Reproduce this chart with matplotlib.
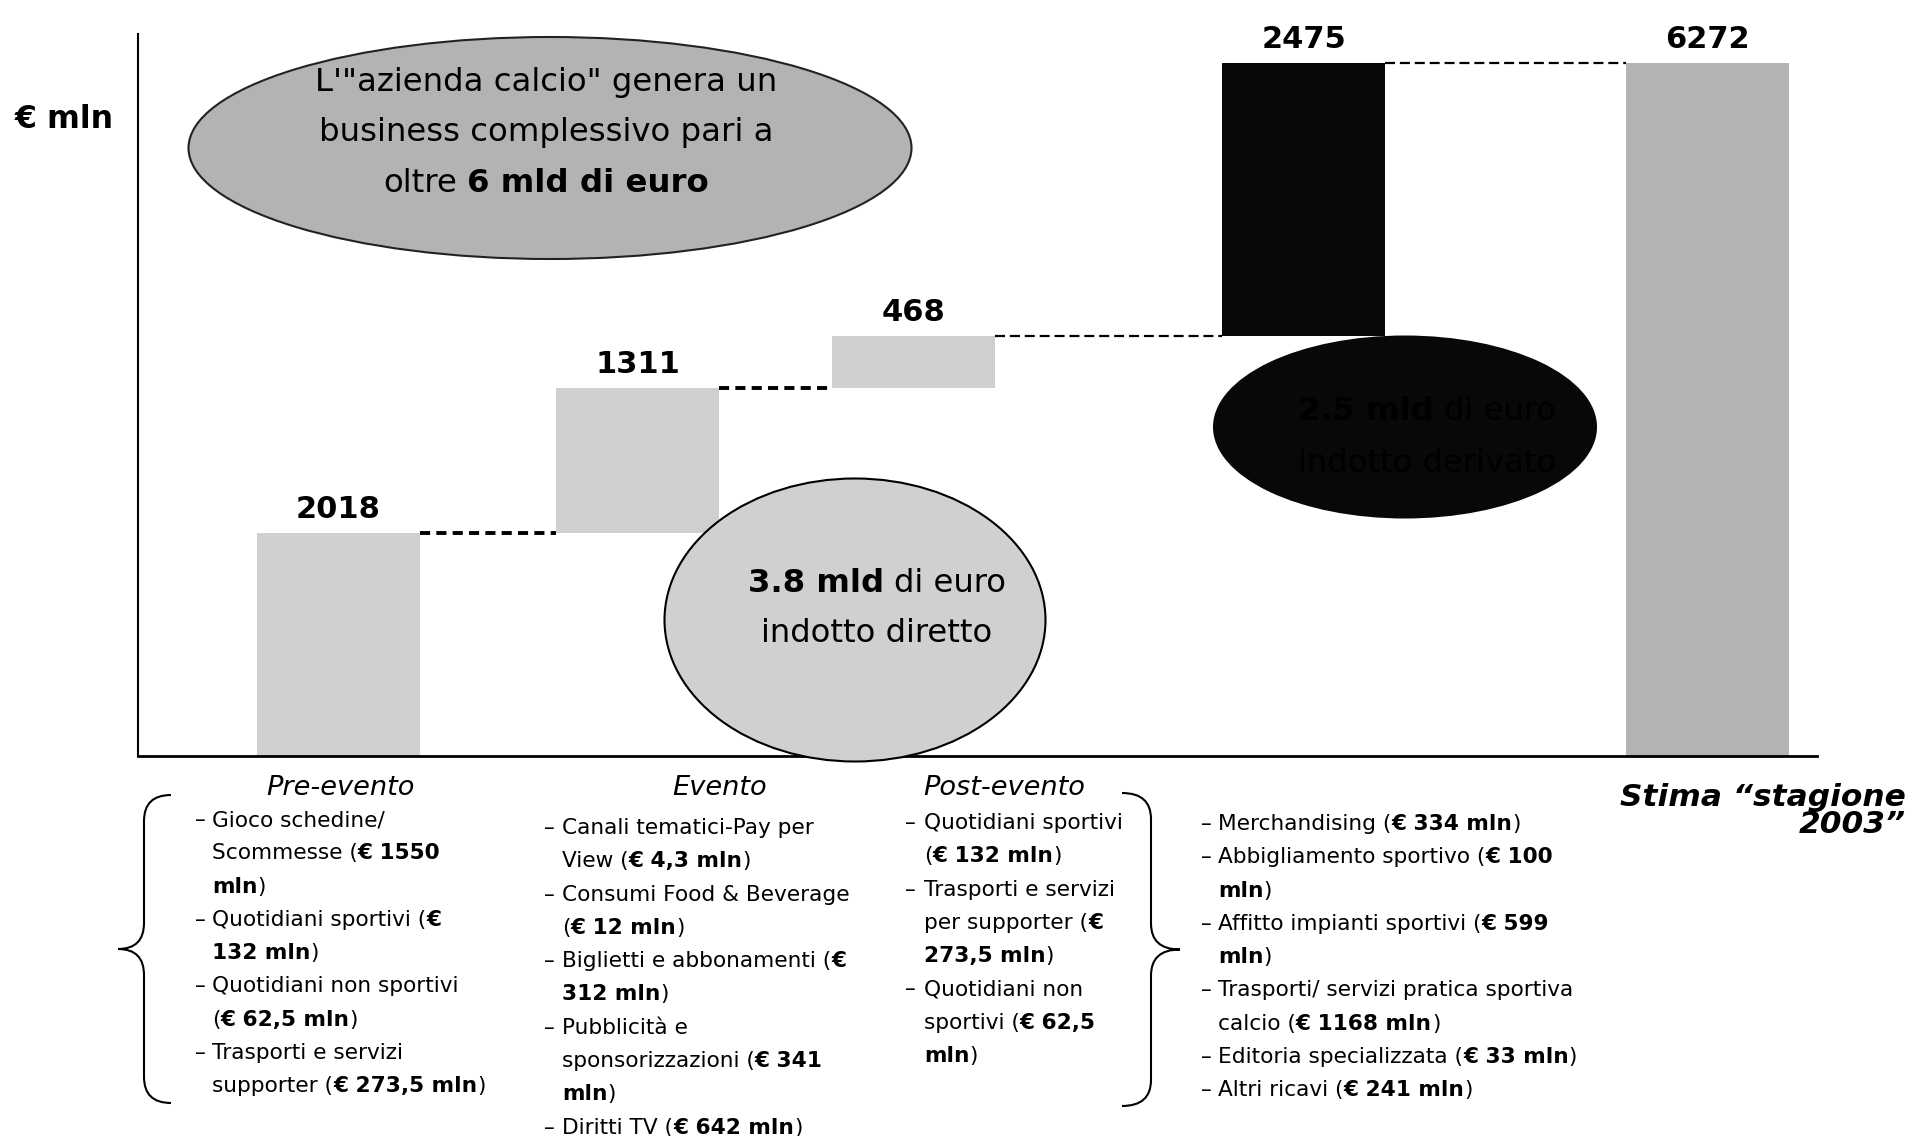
import matplotlib
matplotlib.use("Agg")
import matplotlib.pyplot as plt
from matplotlib.patches import Ellipse, PathPatch
from matplotlib.path import Path

# ── data ────────────────────────────────────────────────────────────────
steps = ["Pre-evento", "Evento", "Post-evento", "Indotto derivato"]
step_values = [2018, 1311, 468, 2475]
total_label = "Stima “stagione\n2003”"
total_value = 6272

headers = ["Pre-evento", "Evento", "Post-evento"]

pre_items = [
    ["Gioco schedine/", "Scommesse (**€ 1550**", "**mln**)"],
    ["Quotidiani sportivi (**€**", "**132 mln**)"],
    ["Quotidiani non sportivi", "(**€ 62,5 mln**)"],
    ["Trasporti e servizi", "supporter (**€ 273,5 mln**)"],
]
event_items = [
    ["Canali tematici-Pay per", "View (**€ 4,3 mln**)"],
    ["Consumi Food & Beverage", "(**€ 12 mln**)"],
    ["Biglietti e abbonamenti (**€**", "**312 mln**)"],
    ["Pubblicità e", "sponsorizzazioni (**€ 341**", "**mln**)"],
    ["Diritti TV (**€ 642 mln**)"],
]
post_items = [
    ["Quotidiani sportivi", "(**€ 132 mln**)"],
    ["Trasporti e servizi", "per supporter (**€**", "**273,5 mln**)"],
    ["Quotidiani non", "sportivi (**€ 62,5**", "**mln**)"],
]
derived_items = [
    ["Merchandising (**€ 334 mln**)"],
    ["Abbigliamento sportivo (**€ 100**", "**mln**)"],
    ["Affitto impianti sportivi (**€ 599**", "**mln**)"],
    ["Trasporti/ servizi pratica sportiva", "calcio (**€ 1168 mln**)"],
    ["Editoria specializzata (**€ 33 mln**)"],
    ["Altri ricavi (**€ 241 mln**)"],
]

big_note = ["L'\"azienda calcio\" genera un", "business complessivo pari a",
            "oltre **6 mld di euro**"]
direct_note = ["**3.8 mld** di euro", "indotto diretto"]
derived_note = ["**2.5 mld** di euro", "indotto derivato"]

# ── layout ──────────────────────────────────────────────────────────────
W, H = 1912, 1136
FONT = "DejaVu Sans"
LIGHT, MID, DARK = "#cfcfcf", "#b3b3b3", "#080808"
LIST_SIZE = 15.6

fig = plt.figure(figsize=(W / 100, H / 100), dpi=100)
ax = fig.add_axes([138 / W, (H - 756) / H, (1817 - 138) / W, (756 - 34) / H])
ax.set_xlim(0, 10.3)
ax.set_ylim(0, 6534)
for s in ("top", "right"):
    ax.spines[s].set_visible(False)
ax.spines["left"].set_linewidth(1.5)
ax.spines["bottom"].set_linewidth(2)
ax.set_xticks([])
ax.set_yticks([])

x_pos = [1.23, 3.064, 4.758, 7.15, 9.63]
bar_w = 1.0

bottoms = []
acc = 0
for v in step_values:
    bottoms.append(acc)
    acc += v
colors = [LIGHT, LIGHT, LIGHT, DARK]
ax.bar(x_pos[:4], step_values, bottom=bottoms, width=bar_w, color=colors)
ax.bar(x_pos[4], total_value, width=bar_w, color=MID)

tops = [b + v for b, v in zip(bottoms, step_values)] + [total_value]
labels = step_values + [total_value]
for x, top, lab in zip(x_pos, tops, labels):
    ax.annotate(f"{lab}", (x, top), xytext=(0, 9), textcoords="offset pixels",
                ha="center", va="bottom", fontsize=22, fontweight="bold",
                family=FONT)

# dashed connectors between consecutive bars (first two heavier)
for i in range(4):
    if i < 2:
        lw, dash = 2.8, (0, (2.6, 1.6))
    else:
        lw, dash = 1.6, (0, (4.5, 2.2))
    ax.plot([x_pos[i] + bar_w / 2, x_pos[i + 1] - bar_w / 2], [tops[i], tops[i]],
            color="black", lw=lw, ls=dash, solid_capstyle="butt")

# overlay in pixel coordinates for notes, braces and lists
ov = fig.add_axes([0, 0, 1, 1], zorder=5)
ov.set_xlim(0, W)
ov.set_ylim(H, 0)
ov.axis("off")
ov.patch.set_alpha(0)

renderer = fig.canvas.get_renderer()
_space = {}


def space_width(size, bold, style):
    key = (size, bold, style)
    if key not in _space:
        kw = dict(fontsize=size, fontweight="bold" if bold else "normal",
                  style=style, family=FONT)
        a = ov.text(0, 0, "a a", **kw)
        b = ov.text(0, 0, "aa", **kw)
        _space[key] = (a.get_window_extent(renderer).width
                       - b.get_window_extent(renderer).width)
        a.remove()
        b.remove()
    return _space[key]


def rich(x, y, markup, size, ha="left", color="black", style="normal"):
    """Draw a line with **bold** runs; returns its width in pixels."""
    runs = [(p, i % 2 == 1) for i, p in enumerate(markup.split("**")) if p]
    items = []
    total = 0.0
    for txt, bold in runs:
        sw = space_width(size, bold, style)
        lead = len(txt) - len(txt.lstrip(" "))
        trail = len(txt) - len(txt.rstrip(" "))
        core = txt.strip(" ")
        t = ov.text(0, y, core, fontsize=size, style=style, color=color,
                    fontweight="bold" if bold else "normal", family=FONT,
                    ha="left", va="center")
        w = t.get_window_extent(renderer).width if core else 0
        items.append((t, total + lead * sw))
        total += lead * sw + w + trail * sw
    start = x - total / 2 if ha == "center" else (x - total if ha == "right" else x)
    for t, off in items:
        t.set_x(start + off)
    return total


# notes
ov.add_patch(Ellipse((550, 148), 723, 222, facecolor=MID, edgecolor="#222222", lw=1.5))
for y, line in zip([83, 132, 183], big_note):
    rich(546, y, line, 23.3, ha="center")

ov.add_patch(Ellipse((855, 620), 381, 283, facecolor="#d0d0d0", edgecolor="black", lw=1.5))
for y, line in zip([583, 633], direct_note):
    rich(877, y, line, 23.2, ha="center")

ov.add_patch(Ellipse((1405, 427), 384, 183, facecolor="#080808", edgecolor="none"))
for y, line in zip([412, 463], derived_note):
    rich(1427, y, line, 23.2, ha="center", color="#000000")

ov.text(15, 120, "€ mln", fontsize=22.8, fontweight="bold", family=FONT,
        ha="left", va="center")

# category headers and the total label
for cx, name in zip([340, 720, 1004], headers):
    ov.text(cx, 788, name, fontsize=19.6, style="italic", family=FONT,
            ha="center", va="center")
ov.text(1906, 811, total_label, fontsize=22.5, style="italic", fontweight="bold",
        family=FONT, ha="right", va="center", linespacing=0.95)

# bullet lists
STEP = 33.3
columns = [
    (pre_items, 195, 212, 820),
    (event_items, 544, 562, 828),
    (post_items, 905, 924, 823),
    (derived_items, 1201, 1218, 824),
]
for items, dash_x, text_x, y0 in columns:
    y = y0
    for item in items:
        ov.text(dash_x, y, "–", fontsize=LIST_SIZE, family=FONT, ha="left", va="center")
        for line in item:
            rich(text_x, y, line, LIST_SIZE)
            y += STEP


def brace(x_end, x_mid, x_tip, y_top, y_bot, r=26):
    yc = (y_top + y_bot) / 2
    verts = [(x_end, y_top), (x_mid, y_top), (x_mid, y_top + r),
             (x_mid, yc - r), (x_mid, yc), (x_tip, yc),
             (x_mid, yc), (x_mid, yc + r),
             (x_mid, y_bot - r), (x_mid, y_bot), (x_end, y_bot)]
    codes = [Path.MOVETO, Path.CURVE3, Path.CURVE3,
             Path.LINETO, Path.CURVE3, Path.CURVE3,
             Path.CURVE3, Path.CURVE3,
             Path.LINETO, Path.CURVE3, Path.CURVE3]
    ov.add_patch(PathPatch(Path(verts, codes), facecolor="none",
                           edgecolor="black", lw=1.5))


brace(171, 144, 118, 795, 1103)
brace(1122, 1151, 1180, 793, 1106)

fig.savefig("out.png", dpi=100)
